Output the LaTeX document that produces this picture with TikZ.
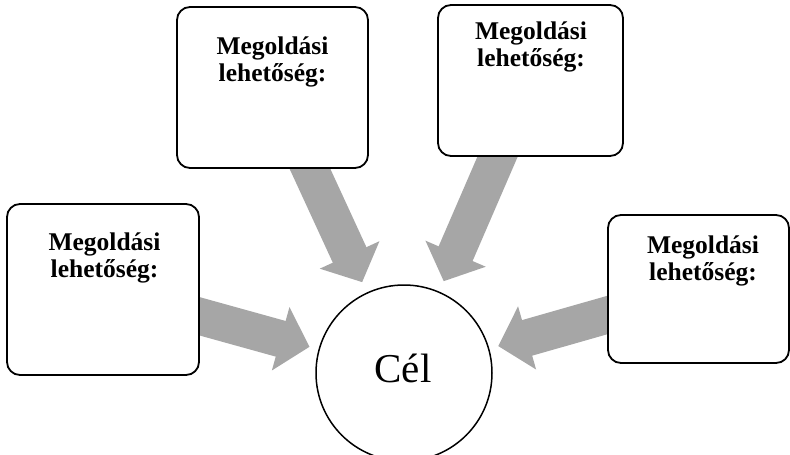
\documentclass[tikz,border=0pt]{standalone}
\usepackage{fontspec}
\setmainfont{Liberation Serif}
\usetikzlibrary{arrows.meta,backgrounds}

\definecolor{arrowgray}{RGB}{166,166,166}

\tikzset{
  optionbox/.style={draw=black, line width=1.8pt, rounded corners=13pt,
    fill=white, inner sep=0pt, outer sep=0pt},
  % anchored at the baseline of the second line
  optiontext/.style={font=\bfseries\fontsize{25.5}{27}\selectfont,
    align=center, inner sep=0pt, anchor=base},
  goalnode/.style={draw=black, line width=1.5pt, circle, fill=white,
    minimum size=176pt, inner sep=0pt, outer sep=0pt},
  bigarrow/.style={draw=arrowgray, line width=37pt,
    -{Triangle[width=64pt, length=30pt]}, shorten >=12pt}
}

\begin{document}
\begin{tikzpicture}[x=1pt, y=-1pt]
  \path[use as bounding box, clip] (0,0) rectangle (790,455);

  % solution boxes
  \node[optionbox, minimum width=191pt, minimum height=161pt] (b1) at (272.5,87.5) {};
  \node[optionbox, minimum width=185pt, minimum height=151pt] (b2) at (530.5,80.5) {};
  \node[optionbox, minimum width=192pt, minimum height=171pt] (b3) at (103,289.5) {};
  \node[optionbox, minimum width=181pt, minimum height=148pt] (b4) at (698.5,289) {};

  \node[optiontext] (t1) at (272.5,81) {Megoldási\\lehetőség:};
  \node[optiontext] (t2) at (531,66) {Megoldási\\lehetőség:};
  \node[optiontext] (t3) at (104.5,277) {Megoldási\\lehetőség:};
  \node[optiontext] (t4) at (703,280) {Megoldási\\lehetőség:};

  % goal
  \node[goalnode] (goal) at (404,373) {};
  \node[font=\fontsize{41}{45}\selectfont, inner sep=0pt, anchor=base] (gl) at (403,382) {Cél};

  % block arrows behind the boxes
  \begin{scope}[on background layer]
    \draw[bigarrow] (b1.center) -- (goal);
    \draw[bigarrow] (b2.center) -- (goal);
    \draw[bigarrow, shorten >=10pt] (b3.center) -- (goal);
    \draw[bigarrow, shorten >=10pt] (b4.center) -- (goal);
  \end{scope}
\end{tikzpicture}
\end{document}
